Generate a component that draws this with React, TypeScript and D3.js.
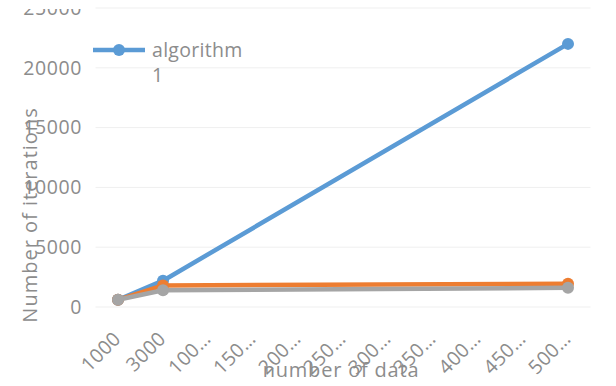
import React from "react";
import * as d3 from "d3";

const categories = ["1000", "3000", "100…", "150…", "200…", "250…", "300…", "350…", "400…", "450…", "500…"];
const algorithm1: (number | null)[] = [600, 2200, null, null, null, null, null, null, null, null, 22000];
const algorithm2: (number | null)[] = [600, 1800, null, null, null, null, null, null, null, null, 1950];
const algorithm3: (number | null)[] = [600, 1400, null, null, null, null, null, null, null, null, 1600];
const yTicks = [0, 5000, 10000, 15000, 20000, 25000];
const seriesNames = ["algorithm 1", "algorithm 2", "algorithm 3"];
const colors = ["#5B9BD5", "#ED7D31", "#A5A5A5"];

const W = 616;
const H = 386;
const FONT = "'Open Sans', sans-serif";
const TXT = "#8c8c8c";

export default function App() {
  const x = d3.scaleBand<string>().domain(categories).range([95.5, 590.5]).padding(0);
  const y = d3.scaleLinear().domain([0, 25000]).range([307, 8]);
  const cx = (c: string) => (x(c) as number) + x.bandwidth() / 2;

  const series = [algorithm1, algorithm2, algorithm3];
  const line = d3
    .line<{ c: string; v: number }>()
    .x((d) => cx(d.c))
    .y((d) => y(d.v));

  const drawOrder = [0, 1, 2];

  return (
    <svg width={W} height={H} style={{ position: "absolute", left: 0, top: 0, background: "#fff" }}>
      <defs>
        <clipPath id="topclip">
          <rect x={0} y={9} width={W} height={H - 9} />
        </clipPath>
      </defs>
      <rect x={0} y={0} width={W} height={H} fill="#fff" />
      {/* gridlines */}
      {yTicks.map((t) => (
        <line key={t} x1={95.5} x2={590.5} y1={y(t)} y2={y(t)} stroke="#efefef" strokeWidth={1} />
      ))}
      {/* y tick labels */}
      <g clipPath="url(#topclip)">
        {yTicks.map((t) => (
          <text
            key={t}
            x={82}
            y={y(t)}
            dy="0.35em"
            textAnchor="end"
            fontFamily={FONT}
            fontSize={19.5}
            letterSpacing={0.6}
            fill={TXT}
          >
            {t}
          </text>
        ))}
      </g>
      {/* x tick labels */}
      {categories.map((c) => (
        <text
          key={c}
          transform={`translate(${cx(c) + 4},${y(0) + 33}) rotate(-45)`}
          textAnchor="end"
          fontFamily={FONT}
          fontSize={19.5}
          letterSpacing={0.4}
          fill={TXT}
        >
          {c}
        </text>
      ))}
      {/* lines */}
      {drawOrder.map((si) => {
        const pts = series[si]
          .map((v, i) => ({ c: categories[i], v }))
          .filter((d) => d.v !== null) as { c: string; v: number }[];
        return (
          <g key={si}>
            <path d={line(pts) || ""} fill="none" stroke={colors[si]} strokeWidth={4.5} strokeLinejoin="round" />
            {pts.map((p) => (
              <circle key={p.c} cx={cx(p.c)} cy={y(p.v)} r={6} fill={colors[si]} />
            ))}
          </g>
        );
      })}
      {/* axis titles */}
      <text
        transform={`translate(37,215) rotate(-90)`}
        textAnchor="middle"
        fontFamily={FONT}
        fontSize={20}
        letterSpacing={1}
        fill={TXT}
      >
        Number of iterations
      </text>
      <text x={341} y={377} textAnchor="middle" fontFamily={FONT} fontSize={20} letterSpacing={0.8} fill={TXT}>
        number of data
      </text>
      {/* legend */}
      <g>
        <line x1={93} x2={145} y1={50} y2={50} stroke={colors[0]} strokeWidth={4.5} />
        <circle cx={119} cy={50} r={6} fill={colors[0]} />
        <text x={152} y={57} fontFamily={FONT} fontSize={19.5} letterSpacing={0.3} fill={TXT}>
          {seriesNames[0].split(" ")[0]}
        </text>
        <text x={152} y={82} fontFamily={FONT} fontSize={19.5} fill={TXT}>
          {seriesNames[0].split(" ")[1]}
        </text>
      </g>
    </svg>
  );
}
